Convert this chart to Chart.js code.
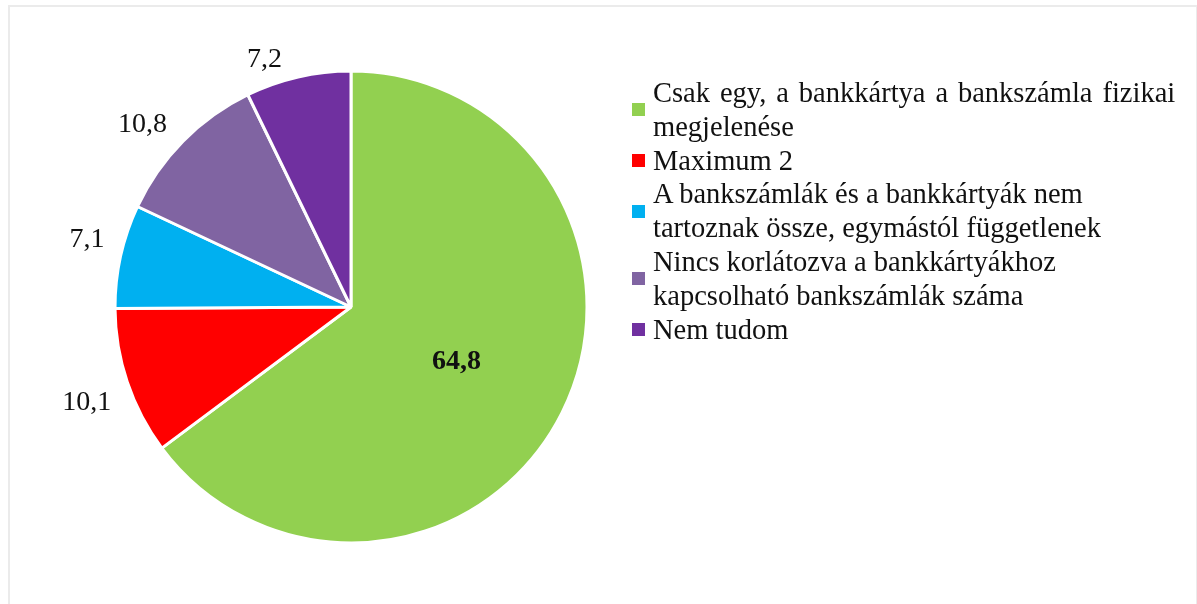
<!DOCTYPE html>
<html>
<head>
<meta charset="utf-8">
<script src="https://cdn.jsdelivr.net/npm/chart.js@4"></script>
<style>
    html, body { margin: 0; padding: 0; background: #fff; }
    body { width: 1197px; height: 604px; position: relative; overflow: hidden; font-family: "Liberation Serif", "Times New Roman", serif; }
    #frame { position: absolute; left: 8px; top: 5px; width: 1186px; height: 620px; border: 2px solid #ebebeb; border-bottom: none; }
    #pie { position: absolute; left: 0; top: 0; }
    #legend { position: absolute; left: 632px; top: 76px; font-size: 28.5px; line-height: 33.8px; color: #111; }
    .item { display: flex; align-items: center; }
    .box { width: 13px; height: 13px; margin-right: 8px; flex: none; }
    .line { display: block; white-space: nowrap; }
    .item:first-child .line:first-child { word-spacing: 2.8px; }
</style>
</head>
<body>
<div id="frame"></div>
<canvas id="pie" width="1197" height="604"></canvas>
<div id="legend"></div>
<script>
// answer categories (legend lines as they wrap in the original)
const categories = [
    ["Csak egy, a bankkártya a bankszámla fizikai", "megjelenése"],
    ["Maximum 2"],
    ["A bankszámlák és a bankkártyák nem", "tartoznak össze, egymástól függetlenek"],
    ["Nincs korlátozva a bankkártyákhoz", "kapcsolható bankszámlák száma"],
    ["Nem tudom"]
];
const shares = [64.8, 10.1, 7.1, 10.8, 7.2];
const valueLabels = ["64,8", "10,1", "7,1", "10,8", "7,2"];
const colors = ["#92D050", "#FF0000", "#00B0F0", "#8064A2", "#7030A0"];

const labelFont = '28px "Liberation Serif", "Times New Roman", serif';

// slice value labels: the big slice gets a bold label inside, the rest sit
// outside, tucked against the point where the slice's middle meets the rim
const sliceLabels = {
    id: "sliceLabels",
    afterDatasetsDraw(chart) {
        const ctx = chart.ctx;
        const arcs = chart.getDatasetMeta(0).data;
        ctx.save();
        ctx.fillStyle = "#111";
        ctx.textBaseline = "middle";
        arcs.forEach((arc, i) => {
            const p = arc.getProps(["x", "y", "startAngle", "endAngle", "outerRadius"], true);
            const mid = (p.startAngle + p.endAngle) / 2;
            const cos = Math.cos(mid), sin = Math.sin(mid);
            const txt = valueLabels[i];
            if (shares[i] > 50) {
                ctx.font = "bold " + labelFont;
                ctx.textAlign = "center";
                const r = p.outerRadius * 0.5;
                ctx.fillText(txt, p.x + cos * r, p.y + sin * r + 2);
            } else {
                ctx.font = labelFont;
                const ax = p.x + cos * p.outerRadius;
                const ay = p.y + sin * p.outerRadius;
                ctx.textAlign = cos < 0 ? "right" : "left";
                const tx = ax + (cos < 0 ? -16 : 16);
                const ty = ay + (sin < 0 ? -19 : 19);
                ctx.fillText(txt, tx, ty + 2);
            }
        });
        ctx.restore();
    }
};

new Chart(document.getElementById("pie"), {
    type: "pie",
    data: {
        labels: categories.map(c => c.join(" ")),
        datasets: [{
            data: shares,
            backgroundColor: colors,
            borderColor: "#ffffff",
            borderWidth: 3
        }]
    },
    options: {
        responsive: false,
        animation: false,
        layout: { padding: { left: 113.5, right: 608.5, top: 69.5, bottom: 59.5 } },
        plugins: {
            legend: { display: false },
            tooltip: { enabled: false }
        }
    },
    plugins: [sliceLabels]
});

document.getElementById("legend").innerHTML = categories.map((lines, i) => `
    <div class="item">
        <span class="box" style="background:${colors[i]}"></span>
        <span>${lines.map(l => `<span class="line">${l}</span>`).join("")}</span>
    </div>`).join("");
</script>
</body>
</html>
